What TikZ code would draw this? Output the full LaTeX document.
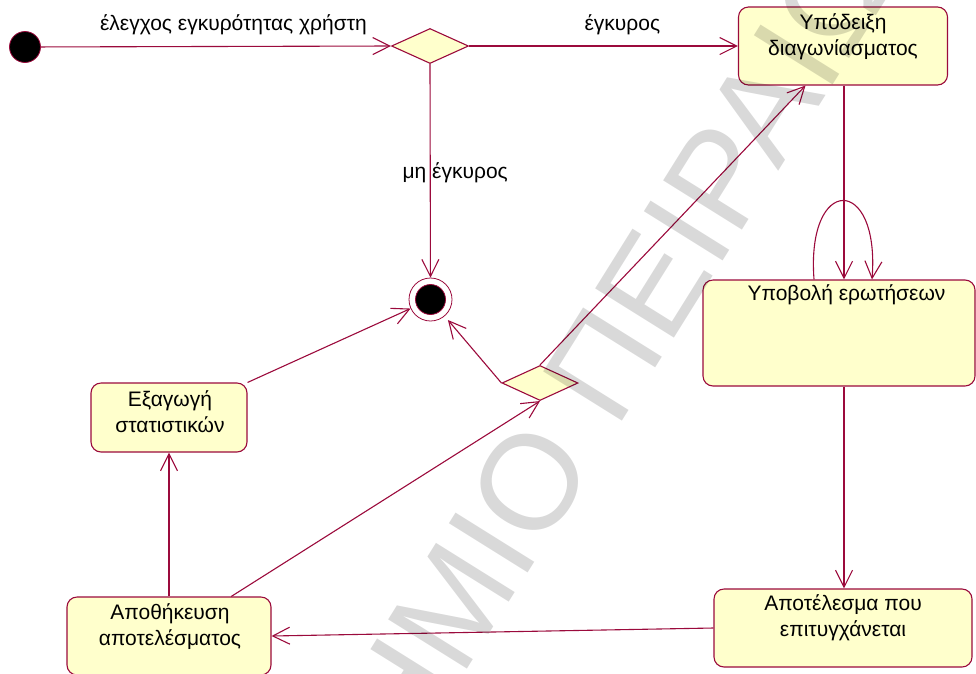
\documentclass[tikz,border=0pt]{standalone}
\usepackage{fontspec}
\setmainfont{Liberation Sans}
\usetikzlibrary{arrows.meta,positioning,shapes.geometric}
\definecolor{roseline}{RGB}{155,10,60}
\definecolor{rosefill}{RGB}{255,255,204}
\tikzset{
  statebox/.style = {
    rectangle,
    draw=roseline,
    fill=rosefill,
    line width=1.1pt,
    rounded corners=10pt,
    inner sep=0pt
  },
  statetext/.style = {
    align=center,
    inner sep=0pt,
    font=\fontsize{21}{26}\selectfont
  },
  choice/.style = {
    diamond,
    draw=roseline,
    fill=rosefill,
    line width=1.1pt,
    inner sep=0pt,
    minimum width=77pt,
    minimum height=35pt
  },
  startdot/.style = {
    circle,
    draw=roseline,
    fill=black,
    line width=0.8pt,
    inner sep=0pt,
    minimum size=31pt
  },
  enddot/.style = {
    circle,
    draw=roseline,
    fill=white,
    line width=0.8pt,
    inner sep=0pt,
    minimum size=43pt
  },
  trans/.style = {
    -{Straight Barb[length=17pt,width=17pt]},
    draw=roseline,
    line width=1.1pt
  },
  translabel/.style = {
    inner sep=0pt,
    font=\fontsize{21}{25}\selectfont
  },
  watermark/.style = {
    inner sep=0pt,
    rotate=58,
    text=black,
    text opacity=0.15,
    font=\fontsize{135}{135}\selectfont
  }
}

\begin{document}
\begin{tikzpicture}[x=1pt, y=-1pt]
    \useasboundingbox (0,0) rectangle (976,673);
    \node[startdot] (init) at (25,47) {};
    \node[choice] (check) at (430,46) {};
    \node[enddot] (final) at (430.5,299.5) {};
    \node[startdot, minimum size=30pt] (finalcore) at (final) {};
    \node[choice, minimum width=76pt] (merge) at (540,383) {};

    \node[statebox, minimum width=209pt, minimum height=78pt] (hint) at (843,46) {};
    \node[statebox, minimum width=272pt, minimum height=106pt] (submit) at (839,333) {};
    \node[statebox, minimum width=258pt, minimum height=78pt] (result) at (843,628) {};
    \node[statebox, minimum width=156pt, minimum height=69pt] (export) at (169,417.5) {};
    \node[statebox, minimum width=204pt, minimum height=78pt] (store) at (169,636) {};

    \node[statetext] (hinttxt) at (843,36.5) {Υπόδειξη\\διαγωνίασματος};
    \node[statetext] (submittxt) at (846.5,295) {Υποβολή ερωτήσεων};
    \node[statetext] (resulttxt) at (843,617.5) {Αποτέλεσμα που\\επιτυγχάνεται};
    \node[statetext] (exporttxt) at (170,411.5) {Εξαγωγή\\στατιστικών};
    \node[statetext] (storetxt) at (170,626.5) {Αποθήκευση\\αποτελέσματος};

    \draw[trans] (init) -- node[translabel, above=11pt, pos=.55] {έλεγχος εγκυρότητας χρήστη} (check.west);
    \draw[trans] (check.east) -- node[translabel, above=11pt, pos=.57] {έγκυρος} (hint.west |- check.east);
    \draw[trans] (check.south) -- node[translabel, pos=.51, xshift=25pt] {μη έγκυρος} (final);
    \draw[trans] (hint.south -| 844,0) -- (submit.north -| 844,0);
    \draw[trans] ([xshift=-25pt]submit.north) .. controls +(-8,-105) and +(8,-105) .. ([xshift=33pt]submit.north);
    \draw[trans] (submit.south -| 844,0) -- (result.north -| 844,0);
    \draw[trans] (result.west) -- (store.east);
    \draw[trans] (store) -- (merge.south);
    \draw[trans] (store.north) -- (export.south);
    \draw[trans] (export.north east) -- (final);
    \draw[trans, shorten >=5pt] (merge.west) -- (final);
    \draw[trans] (merge.north) -- (hint);

    \begin{scope}
      \clip (0,0) rectangle (976,673);
      \coordinate (sealmid) at (541.4,551.3);
      \node[watermark, anchor=base east] (sealleft) at (sealmid) {ΠΑΝΕΠΙΣΤΗΜΙ};
      \node[watermark, anchor=base west] (sealright) at (sealmid) {Ο ΠΕΙΡΑΙΩΣ};
    \end{scope}
\end{tikzpicture}
\end{document}
